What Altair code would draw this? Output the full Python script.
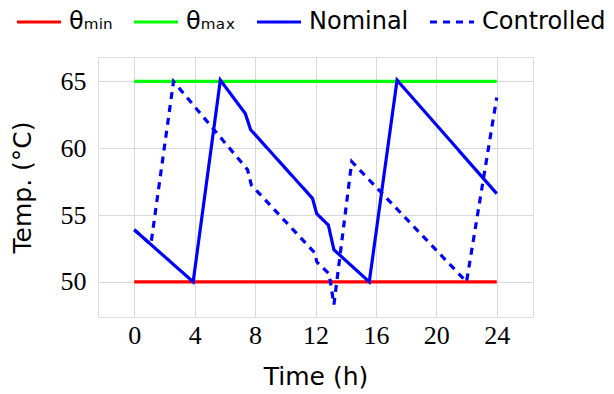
import altair as alt
import pandas as pd

# ---- data ----
limit_x = [0, 24]
theta_min = [50, 50]
theta_max = [65, 65]

nominal_x = [0, 3.9, 5.7, 7.35, 7.7, 11.8, 12.08, 12.85, 13.22, 15.56, 17.4, 24]
nominal_y = [53.9, 50.0, 65.1, 62.6, 61.4, 56.25, 55.1, 54.25, 52.4, 50.0, 65.1, 56.6]

controlled_x = [0, 1.1, 2.6, 7.5, 7.75, 11.97, 12.08, 12.9, 13.22, 14.4, 22.0, 24]
controlled_y = [53.9, 52.8, 65.0, 58.4, 57.25, 52.15, 51.5, 50.6, 48.3, 59.0, 50.0, 63.8]

series_names = ["θₘᵢₙ", "θₘₐₓ", "Nominal", "Controlled"]
series_colors = ["#ff0000", "#00ff00", "#0000ff", "#0000ff"]
series_dash = [[1, 0], [1, 0], [1, 0], [7, 6]]

x_ticks = [0, 4, 8, 12, 16, 20, 24]
y_ticks = [50, 55, 60, 65]

rows = []
for x, y in zip(limit_x, theta_min):
    rows.append({"t": x, "v": y, "s": series_names[0]})
for x, y in zip(limit_x, theta_max):
    rows.append({"t": x, "v": y, "s": series_names[1]})
for x, y in zip(nominal_x, nominal_y):
    rows.append({"t": x, "v": y, "s": series_names[2]})
for x, y in zip(controlled_x, controlled_y):
    rows.append({"t": x, "v": y, "s": series_names[3]})
df = pd.DataFrame(rows)

serif = "Liberation Serif, Times New Roman, serif"
sans = "DejaVu Sans"

xenc = alt.X("t:Q", scale=alt.Scale(domain=[-2.4, 26.4], nice=False, zero=False),
             axis=alt.Axis(values=x_ticks, title="Time (h)", labelFont=serif,
                           labelFontSize=26, labelPadding=5, ticks=False, domain=False,
                           titleFont=sans, titleFontSize=25, titleFontWeight="normal",
                           titlePadding=16, gridColor="#d9d9d9", labelColor="#000", titleColor="#000"))
yenc = alt.Y("v:Q", scale=alt.Scale(domain=[47.37, 66.83], nice=False, zero=False),
             axis=alt.Axis(values=y_ticks, title="Temp. (°C)", labelFont=serif,
                           labelFontSize=26, labelPadding=12, ticks=False, domain=False,
                           titleFont=sans, titleFontSize=25, titleFontWeight="normal",
                           titlePadding=25, gridColor="#d9d9d9", labelColor="#000", titleColor="#000"))

legend = alt.Legend(title=None, orient="none", direction="horizontal",
                    legendX=-83, legendY=-59, symbolType="stroke",
                    symbolSize=1936, symbolStrokeWidth=3.2, labelFont=sans,
                    labelFontSize=24, labelOffset=6, columnPadding=14,
                    labelColor="#000")
color = alt.Color("s:N", scale=alt.Scale(domain=series_names, range=series_colors), legend=legend)
dash = alt.StrokeDash("s:N", scale=alt.Scale(domain=series_names, range=series_dash), legend=legend)

layers = []
for name in series_names:
    layers.append(
        alt.Chart(df[df["s"] == name]).mark_line(strokeWidth=3.2, clip=True).encode(
            x=xenc, y=yenc, color=color, strokeDash=dash
        )
    )

chart = alt.layer(*layers).properties(
    width=435, height=260,
    padding={"left": 90, "top": 49, "right": 73, "bottom": 74},
    autosize=alt.AutoSizeParams(type="none"),
).configure_view(stroke="#444444", strokeWidth=1.2).configure(background="white")

chart.save("out.html", embed_options={"renderer": "svg", "actions": False})
